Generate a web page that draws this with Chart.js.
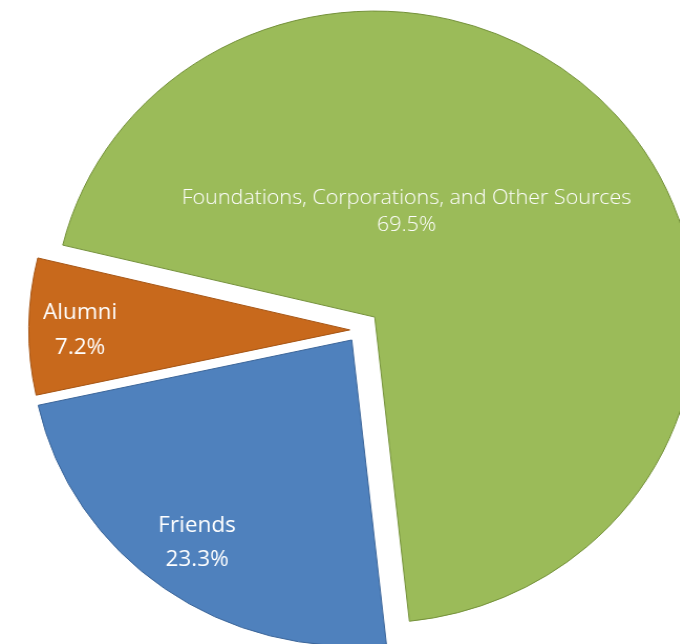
<!DOCTYPE html>
<html>
<head>
<meta charset="utf-8">
<script src="https://cdn.jsdelivr.net/npm/chart.js@4.4.0/dist/chart.umd.min.js"></script>
<style>
  html, body { margin: 0; padding: 0; background: #fff; overflow: hidden; }
  #wrap { position: absolute; left: 0; top: 0; width: 648px; height: 644px;
          transform: scaleX(1.049); transform-origin: 0 0; }
</style>
</head>
<body>
<div id="wrap"><canvas id="pie"></canvas></div>
<script>
// data
var categories = ['Foundations, Corporations, and Other Sources', 'Friends', 'Alumni'];
var shares = [69.5, 23.3, 7.2];

// looks
var fills = ['#9bbb59', '#4f81bd', '#c8691c'];
var edges = ['#74913a', '#3b6599', '#a55413'];
var sliceShift = [19.6, 12.3, 9.1];          // px each slice is pulled out
var labelSpot = [[16, 0.36], [216, 0.82], [270, 0.84]];   // [deg from top, fraction of radius]
var labelFont = ['300 20.5px', '400 21.5px', '400 21.5px'];
var labelGap = [27, 34, 35];

function midAngle(arc) {
    return (arc.startAngle + arc.endAngle) / 2;
}

var explode = {
    id: 'explode',
    beforeDatasetsDraw: function (chart) {
        chart.getDatasetMeta(0).data.forEach(function (arc, i) {
            if (arc._pulled) return;
            var base = arc.draw;
            arc.draw = function (ctx) {
                var m = midAngle(this);
                ctx.save();
                ctx.translate(Math.cos(m) * sliceShift[i], Math.sin(m) * sliceShift[i]);
                base.call(this, ctx);
                ctx.restore();
            };
            arc._pulled = true;
        });
    },
    afterDatasetsDraw: function (chart) {
        var ctx = chart.ctx;
        chart.getDatasetMeta(0).data.forEach(function (arc, i) {
            var m = midAngle(arc);
            var cx = arc.x + Math.cos(m) * sliceShift[i];
            var cy = arc.y + Math.sin(m) * sliceShift[i];
            var a = labelSpot[i][0] * Math.PI / 180 - Math.PI / 2;
            var r = labelSpot[i][1] * arc.outerRadius;
            var x = cx + Math.cos(a) * r;
            var y = cy + Math.sin(a) * r;
            ctx.save();
            ctx.fillStyle = '#ffffff';
            ctx.textAlign = 'center';
            ctx.textBaseline = 'middle';
            ctx.font = labelFont[i] + ' "Open Sans", sans-serif';
            ctx.fillText(categories[i], x, y - labelGap[i] / 2);
            ctx.fillText(shares[i].toFixed(1) + '%', x, y + labelGap[i] / 2);
            ctx.restore();
        });
    }
};

var myPie = new Chart(document.getElementById('pie').getContext('2d'), {
    type: 'pie',
    data: {
        labels: categories,
        datasets: [{
            data: shares,
            backgroundColor: fills,
            borderColor: edges,
            borderWidth: 1
        }]
    },
    options: {
        responsive: true,
        maintainAspectRatio: false,
        animation: false,
        rotation: 283.6,
        radius: 306,
        layout: { padding: { left: 37, right: 0, top: 16, bottom: 0 } },
        plugins: {
            legend: { display: false },
            tooltip: { enabled: false }
        }
    },
    plugins: [explode]
});
</script>
</body>
</html>
